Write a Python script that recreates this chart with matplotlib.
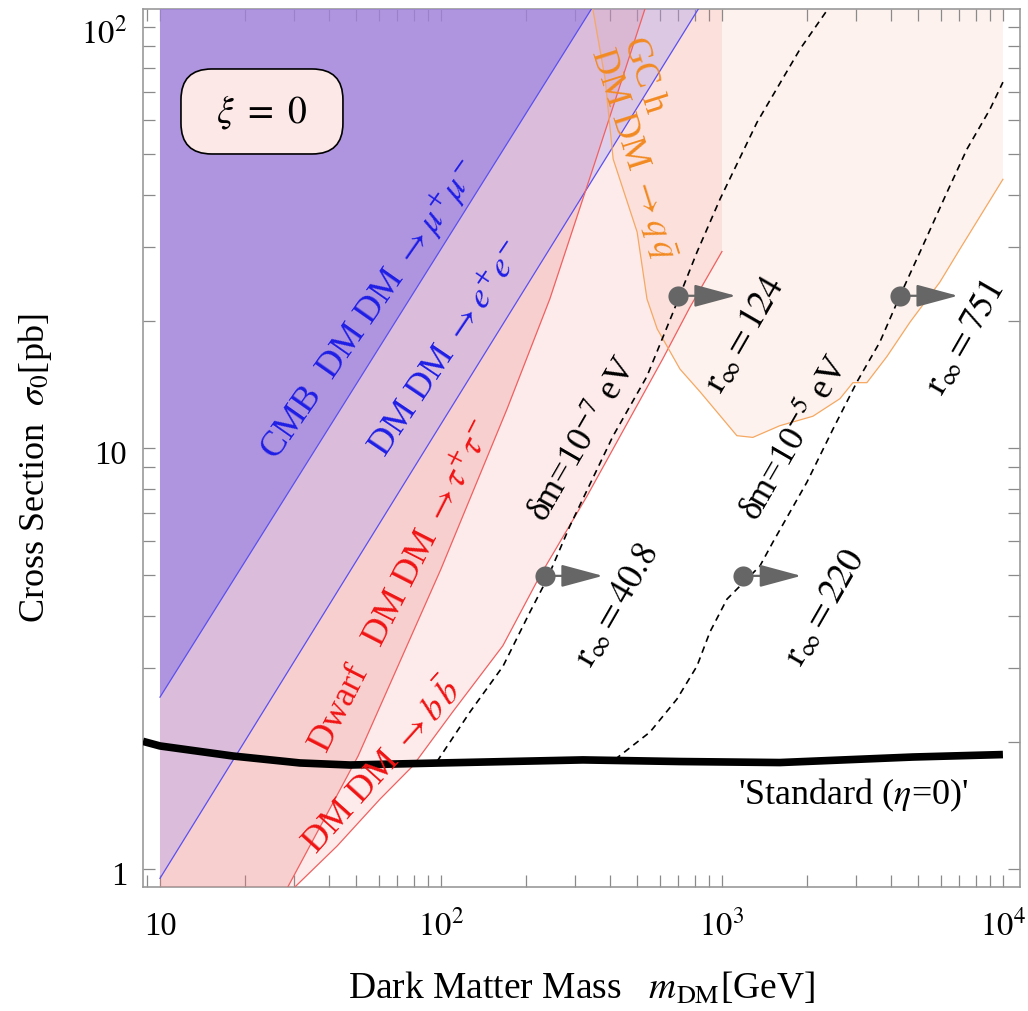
import numpy as np
import matplotlib
matplotlib.use("Agg")
import matplotlib.pyplot as plt
import matplotlib.transforms as mtransforms
from matplotlib.patches import FancyBboxPatch
from matplotlib.ticker import LogLocator, NullFormatter, FixedLocator

plt.rcParams["font.family"] = ["Liberation Serif", "DejaVu Serif"]
plt.rcParams["mathtext.fontset"] = "stix"

# ---------------- data ----------------
x_limits = [8.7, 11500.0]
y_limits = [0.906, 110.4]
x_tick_values = [10, 100, 1000, 10000]
x_tick_labels = ["10", "$10^2$", "$10^3$", "$10^4$"]
y_tick_values = [1, 10, 100]
y_tick_labels = ["1", "10", "$10^2$"]

cmb_mumu_mass = [10, 100, 1000]
cmb_mumu_sigma = [2.56, 29.7, 345.0]
cmb_ee_mass = [10, 100, 1000]
cmb_ee_sigma = [0.95, 11.4, 136.0]

dwarf_tau_mass = [28.5, 50.7, 100, 172, 244, 356, 532]
dwarf_tau_sigma = [0.906, 1.855, 5.16, 12.4, 22.6, 48.5, 110.4]

dwarf_bb_mass = [30.2, 42.7, 60.7, 79.4, 110, 166, 225, 331, 511, 616, 769, 1000]
dwarf_bb_sigma = [0.906, 1.134, 1.466, 1.757, 2.36, 3.39, 4.97, 7.69, 13.0, 16.3, 21.6, 29.3]

gc_mass = [347, 384, 410, 499, 541, 588, 709, 836, 1130, 1288, 1607, 2107,
           2630, 2925, 3280, 3865, 4667, 5968, 7030, 10000]
gc_sigma = [110.4, 75.2, 48.6, 32.6, 22.6, 19.2, 15.4, 13.6, 10.7, 10.6, 11.3, 11.9,
            13.1, 14.3, 14.3, 16.5, 19.9, 24.8, 29.7, 43.5]

standard_mass = [8.7, 10, 18.2, 31.5, 47.4, 100, 320, 709, 1607, 4786, 10000]
standard_sigma = [2.01, 1.96, 1.855, 1.786, 1.766, 1.786, 1.816, 1.80, 1.79, 1.845, 1.87]

dm7_mass = [96.8, 126.8, 166.2, 207.4, 238.4, 287.7, 409.6, 540.7, 669.7, 815, 984,
            1333, 1897, 2384]
dm7_sigma = [1.80, 2.36, 3.03, 4.08, 4.88, 6.53, 10.68, 14.8, 21.0, 29.2, 39.0,
             59.4, 88.7, 110.4]

dm5_mass = [416, 554.6, 691.8, 815, 906, 1042, 1365, 1519, 2007, 2484, 3022, 3648,
            4296, 5066, 6322, 7447, 8993, 10000]
dm5_sigma = [1.82, 2.115, 2.534, 3.034, 3.655, 4.376, 5.245, 5.98, 8.30, 11.09, 14.35,
             17.86, 22.96, 29.2, 40.5, 51.3, 63.8, 74.0]

marker_mass = [234, 1189, 696, 4296]
marker_sigma = [4.97, 4.97, 23.0, 23.0]
marker_labels = ["$\\mathrm{r}_{\\infty} = 40.8$", "$\\mathrm{r}_{\\infty} = 220$",
                 "$\\mathrm{r}_{\\infty} = 124$", "$\\mathrm{r}_{\\infty} = 751$"]

# ---------------- figure ----------------
fig = plt.figure(figsize=(10.28, 10.12), dpi=100)
ax = fig.add_axes([0.1391, 0.1225, 0.8531, 0.8676])
ax.set_xscale("log")
ax.set_yscale("log")
ax.set_xlim(*x_limits)
ax.set_ylim(*y_limits)
ybot, ytop = y_limits


def region_above(mass, sigma, m_left, m_right):
    if mass[0] > m_left:
        xs = [m_left, m_left] + list(mass) + [m_right, m_left]
        ys = [ytop * 1.5, ybot] + list(sigma) + [ytop * 1.5, ytop * 1.5]
    else:
        xs = list(mass) + [m_right, m_left]
        ys = list(sigma) + [ytop * 1.5, ytop * 1.5]
    return xs, ys


# GC region
gx, gy = region_above(gc_mass, gc_sigma, gc_mass[0], gc_mass[-1])
ax.fill(gx, gy, color="#F0A078", alpha=0.13, lw=0, zorder=1)
# Dwarf bb region
bx, by = region_above(dwarf_bb_mass, dwarf_bb_sigma, 10, dwarf_bb_mass[-1])
ax.fill(bx, by, color="#F26B6B", alpha=0.13, lw=0, zorder=2)
# Dwarf tau region
tx, ty = region_above(dwarf_tau_mass, dwarf_tau_sigma, 10, dwarf_tau_mass[-1])
ax.fill(tx, ty, color="#ED7C7C", alpha=0.25, lw=0, zorder=3)
# CMB ee region
ex, ey = region_above(cmb_ee_mass, cmb_ee_sigma, 10, cmb_ee_mass[-1])
ax.fill(ex, ey, color="#A69DF2", alpha=0.35, lw=0, zorder=4)
# CMB mumu region
mx, my = region_above(cmb_mumu_mass, cmb_mumu_sigma, 10, cmb_mumu_mass[-1])
ax.fill(mx, my, color="#937BE3", alpha=0.6, lw=0, zorder=5)

# boundary lines
ax.plot(cmb_mumu_mass, cmb_mumu_sigma, color="#5A50F0", lw=0.9, zorder=6)
ax.plot(cmb_ee_mass, cmb_ee_sigma, color="#5A50F0", lw=0.9, zorder=6)
ax.plot(dwarf_tau_mass, dwarf_tau_sigma, color="#F06060", lw=0.9, zorder=6)
ax.plot(dwarf_bb_mass, dwarf_bb_sigma, color="#F06060", lw=0.9, zorder=6)
ax.plot(gc_mass, gc_sigma, color="#F5A862", lw=0.9, zorder=6)

# dashed delta-m curves
ax.plot(dm7_mass, dm7_sigma, color="black", lw=1.2, ls=(0, (4, 3)), zorder=7)
ax.plot(dm5_mass, dm5_sigma, color="black", lw=1.2, ls=(0, (4, 3)), zorder=7)

# standard curve
ax.plot(standard_mass, standard_sigma, color="black", lw=5.5,
        solid_capstyle="butt", zorder=8)

# markers with arrows
gray = "#666666"
arrow_factor = 1.61
for m, s in zip(marker_mass, marker_sigma):
    ax.annotate("", xy=(m * arrow_factor, s), xytext=(m, s),
                arrowprops=dict(arrowstyle="-|>,head_length=1.3,head_width=0.35",
                                color=gray, lw=1.6, shrinkA=0, shrinkB=0,
                                mutation_scale=20), zorder=9)
    ax.plot([m], [s], "o", color=gray, ms=14.5, mec="none", zorder=10)

fs = 26
blue = "#1E1EE6"
red = "#F01414"
orange = "#F28A22"
# marker labels
label_pos = [(423, 4.26), (2328, 4.19), (1208, 18.7), (7330, 18.4)]
for (lm, ls_), txt in zip(label_pos, marker_labels):
    ax.text(lm, ls_, txt, fontsize=fs, rotation=60, ha="center", va="center",
            rotation_mode="anchor", zorder=11)

ax.text(320, 10.5, "δm=10$^{-7}$ eV", fontsize=fs, rotation=60, ha="center",
        va="center", rotation_mode="anchor", zorder=11)
ax.text(1820, 10.6, "δm=10$^{-5}$ eV", fontsize=fs, rotation=60, ha="center",
        va="center", rotation_mode="anchor", zorder=11)

ax.text(55.9, 21.4, "CMB  DM DM $\\rightarrow \\mu^{+}\\mu^{-}$", color=blue,
        fontsize=fs, rotation=55, ha="center", va="center", rotation_mode="anchor", zorder=11)
ax.text(106, 17.2, "DM DM $\\rightarrow e^{+}e^{-}$", color=blue,
        fontsize=fs, rotation=56, ha="center", va="center", rotation_mode="anchor", zorder=11)
ax.text(73.3, 4.70, "Dwarf   DM DM $\\rightarrow \\tau^{+}\\tau^{-}$", color=red,
        fontsize=fs, rotation=63, ha="center", va="center", rotation_mode="anchor", zorder=11)
ax.text(62.2, 1.75, "DM DM $\\rightarrow b\\,\\bar{b}$", color=red,
        fontsize=fs, rotation=48, ha="center", va="center", rotation_mode="anchor", zorder=11)
ax.text(550, 51.6, "GC h\nDM DM $\\rightarrow q\\,\\bar{q}$", color=orange,
        fontsize=fs, rotation=-72.5, ha="center", va="center", multialignment="left",
        rotation_mode="anchor", linespacing=1.0, zorder=11)

ax.text(2925, 1.507, "'Standard ($\\eta$=0)'", fontsize=fs, ha="center", va="center",
        zorder=11)

# xi box
box = FancyBboxPatch((0.0433, 0.8349), 0.1847, 0.0968,
                     boxstyle="round,pad=0,rounding_size=0.035",
                     transform=ax.transAxes, fc="#FCE8E6", ec="black", lw=1.2, zorder=12)
ax.add_patch(box)
ax.text(0.1357, 0.8833, "$\\xi\\ =\\ 0$", transform=ax.transAxes, fontsize=27,
        ha="center", va="center", zorder=13)

# ticks
for sp in ax.spines.values():
    sp.set_color("#999999")
    sp.set_linewidth(1.2)
ax.xaxis.set_major_locator(FixedLocator(x_tick_values))
ax.yaxis.set_major_locator(FixedLocator(y_tick_values))
ax.xaxis.set_minor_locator(LogLocator(base=10, subs=np.arange(2, 10)))
ax.yaxis.set_minor_locator(LogLocator(base=10, subs=np.arange(2, 10)))
ax.xaxis.set_minor_formatter(NullFormatter())
ax.yaxis.set_minor_formatter(NullFormatter())
ax.tick_params(which="both", direction="in", length=8.6, width=0.9, color="#8A8A8A",
               top=True, right=True, labelbottom=False, labelleft=False)

tick_fs = 23.5
xtrans = mtransforms.blended_transform_factory(ax.transData, ax.transAxes)
for v, lab in zip(x_tick_values, x_tick_labels):
    ax.text(v, -0.0535, lab, transform=xtrans, fontsize=tick_fs, ha="center",
            va="baseline")
ytrans = mtransforms.blended_transform_factory(ax.transAxes, ax.transData) + \
    mtransforms.ScaledTranslation(0, -0.15, fig.dpi_scale_trans)
for v, lab in zip(y_tick_values, y_tick_labels):
    ax.text(-0.0182, v, lab, transform=ytrans, fontsize=tick_fs, ha="right",
            va="baseline")

fig.text(0.5657, 0.0125, "Dark Matter Mass   $m_{\\rm DM}$[GeV]", fontsize=27,
         ha="center", va="baseline")
fig.text(0.034, 0.5375, "Cross Section  $\\sigma_0$[pb]", fontsize=26,
         ha="center", va="center", rotation=90)

fig.savefig("out.png", dpi=100)
